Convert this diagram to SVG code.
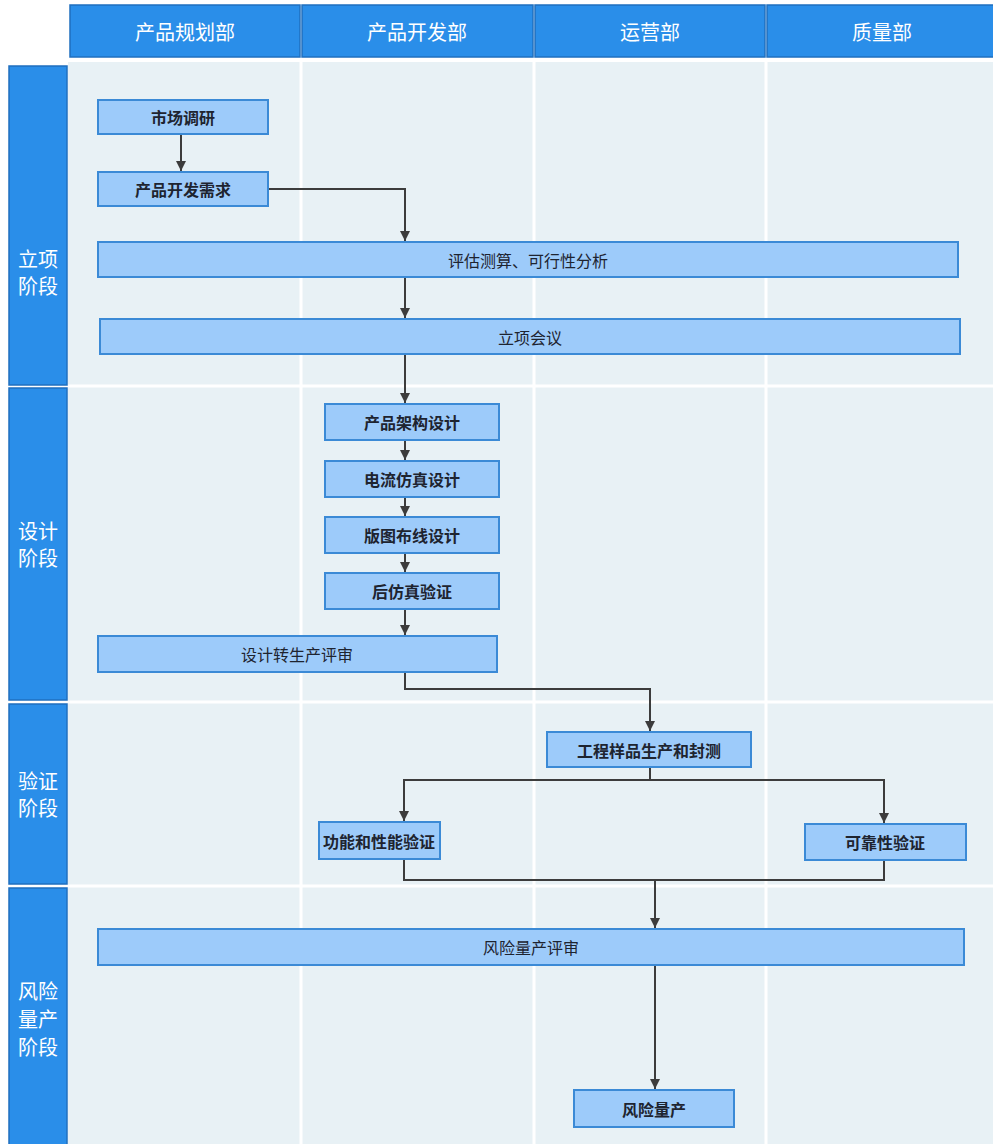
<svg xmlns="http://www.w3.org/2000/svg" width="993" height="1144" viewBox="0 0 993 1144">
<style>
.hdr{fill:#2a8ee9;stroke:#1f6fbf;stroke-width:1.5}
.hdrt{fill:#fff;font-family:"Noto Sans CJK SC","Liberation Sans",sans-serif;font-size:20px;text-anchor:middle;dominant-baseline:central}
.ph{fill:#2a8ee9;stroke:#1f6fbf;stroke-width:1.5}
.pht{fill:#fff;font-family:"Noto Sans CJK SC","Liberation Sans",sans-serif;font-size:20px;text-anchor:middle;dominant-baseline:central}
.nd{fill:#9dcbfa;stroke:#3b8ad6;stroke-width:2}
.ndt{fill:#1e2430;font-family:"Noto Sans CJK SC","Liberation Sans",sans-serif;font-size:16px;font-weight:bold;text-anchor:middle;dominant-baseline:central}
.ndw{font-weight:normal}
.cn{fill:none;stroke:#3c3c3c;stroke-width:2}
.cna{fill:none;stroke:#3c3c3c;stroke-width:2;marker-end:url(#ah)}
.grid{stroke:#ffffff;stroke-width:3}
</style>
<defs>
<marker id="ah" viewBox="0 0 10 10" refX="10" refY="5" markerWidth="5" markerHeight="5" orient="auto" markerUnits="strokeWidth">
<path d="M0,0 L10,5 L0,10 z" fill="#3c3c3c"/>
</marker>
</defs>
<rect width="993" height="1144" fill="#ffffff"/>
<g id="grid">
<rect x="68" y="62" width="925" height="1082" fill="#e8f1f5"/>
<line class="grid" x1="301" y1="62" x2="301" y2="1144"/>
<line class="grid" x1="534" y1="62" x2="534" y2="1144"/>
<line class="grid" x1="766" y1="62" x2="766" y2="1144"/>
<line class="grid" x1="68" y1="386" x2="993" y2="386"/>
<line class="grid" x1="68" y1="702" x2="993" y2="702"/>
<line class="grid" x1="68" y1="886" x2="993" y2="886"/>
</g>
<g id="headers">
<g id="h1"><rect class="hdr" x="70" y="5" width="230" height="52"/><text class="hdrt" x="185" y="31">产品规划部</text></g>
<g id="h2"><rect class="hdr" x="302" y="5" width="231" height="52"/><text class="hdrt" x="417" y="31">产品开发部</text></g>
<g id="h3"><rect class="hdr" x="535" y="5" width="230" height="52"/><text class="hdrt" x="650" y="31">运营部</text></g>
<g id="h4"><rect class="hdr" x="767" y="5" width="230" height="52"/><text class="hdrt" x="882" y="31">质量部</text></g>
</g>
<g id="phases">
<g id="p1"><rect class="ph" x="9" y="66" width="58" height="319"/><text class="pht" x="38" y="258">立项</text><text class="pht" x="38" y="285">阶段</text></g>
<g id="p2"><rect class="ph" x="9" y="388" width="58" height="312"/><text class="pht" x="38" y="530">设计</text><text class="pht" x="38" y="557">阶段</text></g>
<g id="p3"><rect class="ph" x="9" y="704" width="58" height="180"/><text class="pht" x="38" y="780">验证</text><text class="pht" x="38" y="807">阶段</text></g>
<g id="p4"><rect class="ph" x="9" y="888" width="58" height="260"/><text class="pht" x="38" y="990">风险</text><text class="pht" x="38" y="1018">量产</text><text class="pht" x="38" y="1046">阶段</text></g>
</g>
<g id="connectors">
<path class="cna" d="M181,134 V171"/>
<path class="cna" d="M268,189 H405 V241"/>
<path class="cna" d="M405,277 V318"/>
<path class="cna" d="M405,354 V403"/>
<path class="cna" d="M405,440 V460"/>
<path class="cna" d="M405,497 V516"/>
<path class="cna" d="M405,553 V572"/>
<path class="cna" d="M405,609 V635"/>
<path class="cna" d="M405,672 V689 H650 V731"/>
<path class="cn" d="M650,767 V780"/>
<path class="cna" d="M650,780 H404 V821"/>
<path class="cna" d="M650,780 H884 V823"/>
<path class="cn" d="M404,859 V880 H884 V860"/>
<path class="cna" d="M655,880 V928"/>
<path class="cna" d="M655,965 V1089"/>
</g>
<g id="n1"><rect class="nd" x="98" y="100" width="170" height="34"/><text class="ndt" x="183" y="117">市场调研</text></g>
<g id="n2"><rect class="nd" x="98" y="172" width="170" height="34"/><text class="ndt" x="183" y="189">产品开发需求</text></g>
<g id="n3"><rect class="nd" x="98" y="242" width="860" height="35"/><text class="ndt ndw" x="528" y="260">评估测算、可行性分析</text></g>
<g id="n4"><rect class="nd" x="100" y="319" width="860" height="35"/><text class="ndt ndw" x="530" y="337">立项会议</text></g>
<g id="n5"><rect class="nd" x="325" y="404" width="174" height="36"/><text class="ndt" x="412" y="422">产品架构设计</text></g>
<g id="n6"><rect class="nd" x="325" y="461" width="174" height="36"/><text class="ndt" x="412" y="479">电流仿真设计</text></g>
<g id="n7"><rect class="nd" x="325" y="517" width="174" height="36"/><text class="ndt" x="412" y="535">版图布线设计</text></g>
<g id="n8"><rect class="nd" x="325" y="573" width="174" height="36"/><text class="ndt" x="412" y="591">后仿真验证</text></g>
<g id="n9"><rect class="nd" x="98" y="636" width="399" height="36"/><text class="ndt ndw" x="297" y="654">设计转生产评审</text></g>
<g id="n10"><rect class="nd" x="547" y="732" width="204" height="35"/><text class="ndt" x="649" y="750">工程样品生产和封测</text></g>
<g id="n11"><rect class="nd" x="319" y="822" width="121" height="37"/><text class="ndt" x="379" y="841">功能和性能验证</text></g>
<g id="n12"><rect class="nd" x="805" y="824" width="161" height="36"/><text class="ndt" x="885" y="842">可靠性验证</text></g>
<g id="n13"><rect class="nd" x="98" y="929" width="866" height="36"/><text class="ndt ndw" x="531" y="947">风险量产评审</text></g>
<g id="n14"><rect class="nd" x="574" y="1090" width="160" height="37"/><text class="ndt" x="654" y="1109">风险量产</text></g>
</svg>
